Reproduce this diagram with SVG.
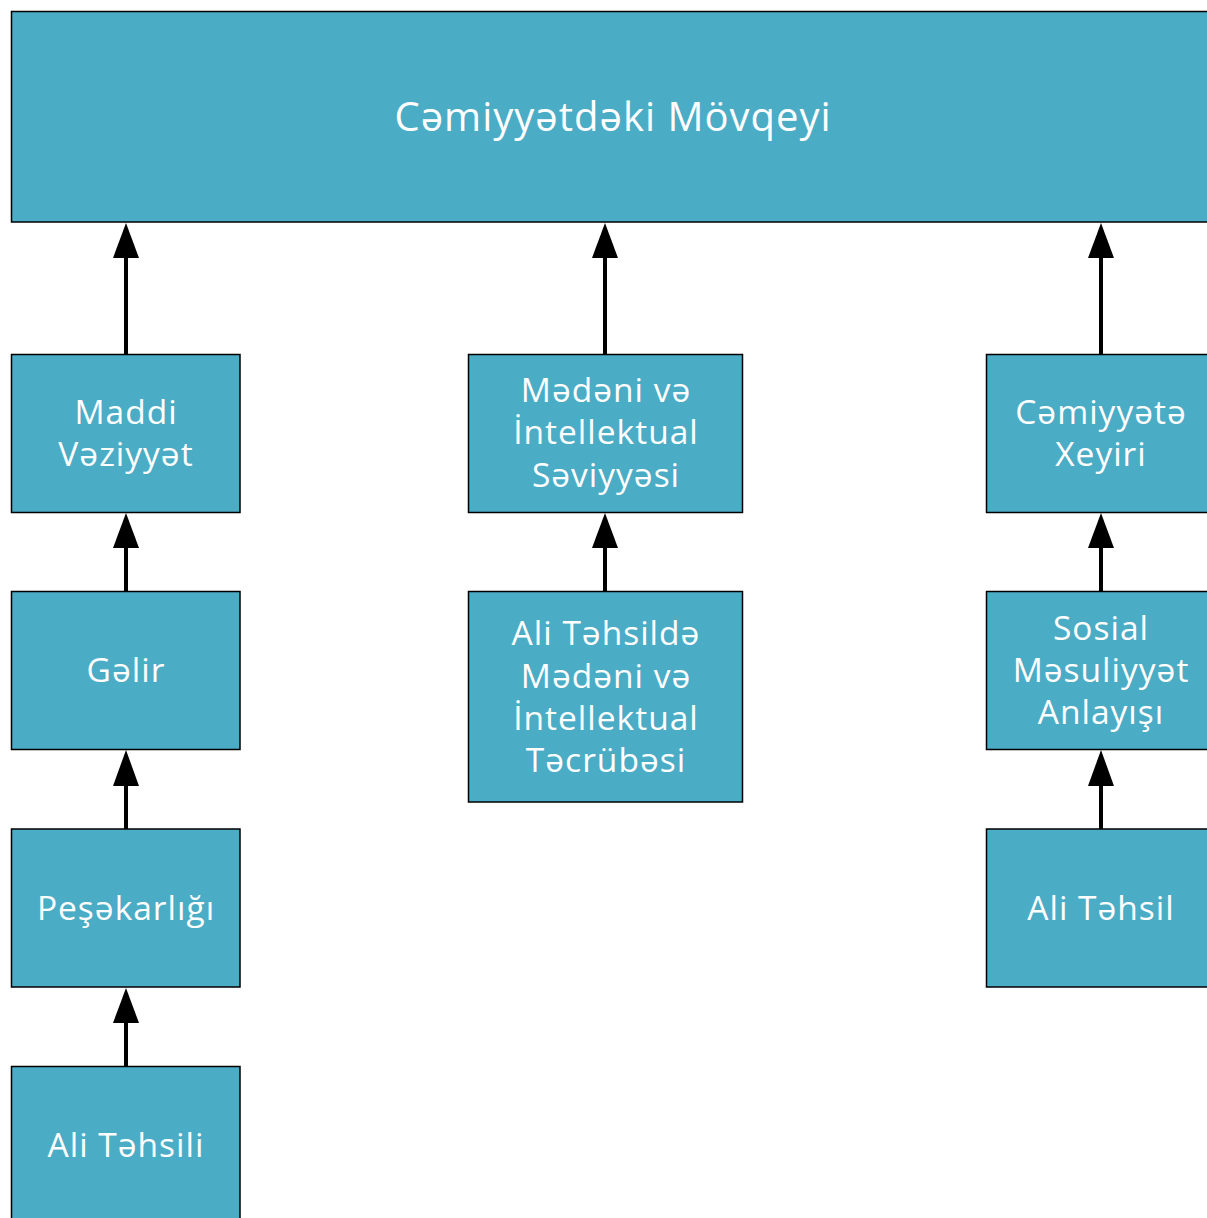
<svg xmlns="http://www.w3.org/2000/svg" width="1207" height="1218" viewBox="0 0 1207 1218">
<defs>
<style>
.box{fill:#4BACC6;stroke:#000;stroke-width:1.5}
.t{font-family:"Open Sans","DejaVu Sans",sans-serif;font-size:33.5px;fill:#fff;text-anchor:middle;letter-spacing:1px}
.big{font-size:40px}
.c{stroke:#000;stroke-width:4;fill:none}
.h{fill:#000}
</style>
</defs>
<rect width="1207" height="1218" fill="#fff"/>
<g id="n-top"><rect class="box" x="11.5" y="11.5" width="1210" height="210.5"/><text class="t big" x="613" y="131">Cəmiyyətdəki Mövqeyi</text></g>
<g id="n-maddi"><rect class="box" x="11.5" y="354.5" width="228.5" height="158"/><text class="t" x="126" y="424">Maddi</text><text class="t" x="126" y="466">Vəziyyət</text></g>
<g id="n-gelir"><rect class="box" x="11.5" y="591.5" width="228.5" height="158"/><text class="t" x="126" y="682">Gəlir</text></g>
<g id="n-pesakar"><rect class="box" x="11.5" y="829" width="228.5" height="158"/><text class="t" x="126" y="920">Peşəkarlığı</text></g>
<g id="n-ali1"><rect class="box" x="11.5" y="1066.5" width="228.5" height="160"/><text class="t" x="126" y="1157">Ali Təhsili</text></g>
<g id="n-medeni"><rect class="box" x="468.5" y="354.5" width="274" height="158"/><text class="t" x="606" y="402">Mədəni və</text><text class="t" x="606" y="444">İntellektual</text><text class="t" x="606" y="487">Səviyyəsi</text></g>
<g id="n-aliteh"><rect class="box" x="468.5" y="591.5" width="274" height="210.5"/><text class="t" x="606" y="645">Ali Təhsildə</text><text class="t" x="606" y="688">Mədəni və</text><text class="t" x="606" y="730">İntellektual</text><text class="t" x="606" y="772">Təcrübəsi</text></g>
<g id="n-xeyir"><rect class="box" x="986.5" y="354.5" width="230" height="158"/><text class="t" x="1101" y="424">Cəmiyyətə</text><text class="t" x="1101" y="466">Xeyiri</text></g>
<g id="n-sosial"><rect class="box" x="986.5" y="591.5" width="230" height="158"/><text class="t" x="1101" y="640">Sosial</text><text class="t" x="1101" y="682">Məsuliyyət</text><text class="t" x="1101" y="724">Anlayışı</text></g>
<g id="n-ali2"><rect class="box" x="986.5" y="829" width="230" height="158"/><text class="t" x="1101" y="920">Ali Təhsil</text></g>
<g id="connectors">
<line class="c" x1="126" y1="354" x2="126" y2="254"/><polygon class="h" points="126,223 139,258 113,258"/>
<line class="c" x1="126" y1="591" x2="126" y2="544"/><polygon class="h" points="126,513 139,548 113,548"/>
<line class="c" x1="126" y1="829" x2="126" y2="782"/><polygon class="h" points="126,750 139,786 113,786"/>
<line class="c" x1="126" y1="1066" x2="126" y2="1019"/><polygon class="h" points="126,988 139,1023 113,1023"/>
<line class="c" x1="605" y1="354" x2="605" y2="254"/><polygon class="h" points="605,223 618,258 592,258"/>
<line class="c" x1="605" y1="591" x2="605" y2="544"/><polygon class="h" points="605,513 618,548 592,548"/>
<line class="c" x1="1101" y1="354" x2="1101" y2="254"/><polygon class="h" points="1101,223 1114,258 1088,258"/>
<line class="c" x1="1101" y1="591" x2="1101" y2="544"/><polygon class="h" points="1101,513 1114,548 1088,548"/>
<line class="c" x1="1101" y1="829" x2="1101" y2="782"/><polygon class="h" points="1101,750 1114,786 1088,786"/>
</g>
</svg>
